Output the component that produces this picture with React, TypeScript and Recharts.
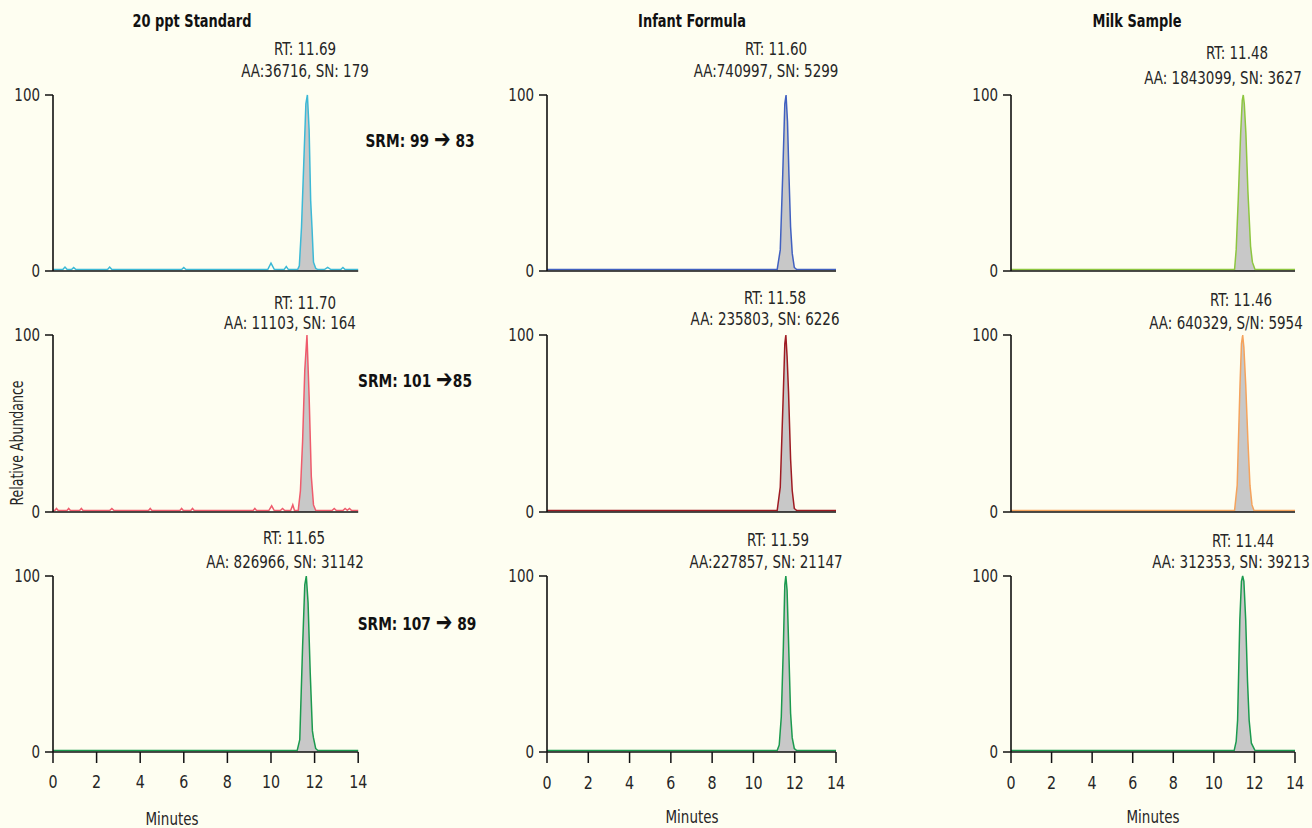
import React from "react";
import { ComposedChart, Line, Area, XAxis, YAxis } from "recharts";

// ---------- text content ----------
const columnTitles = ["20 ppt Standard", "Infant Formula", "Milk Sample"];
const ARROW = "\u2794";
const srmLabels = ["SRM: 99 \u2794 83", "SRM: 101 \u279485", "SRM: 107 \u2794 89"];
const rtLabels = [
  ["RT: 11.69", "RT: 11.70", "RT: 11.65"],
  ["RT: 11.60", "RT: 11.58", "RT: 11.59"],
  ["RT: 11.48", "RT: 11.46", "RT: 11.44"],
];
const aaLabels = [
  ["AA:36716, SN: 179", "AA: 11103, SN: 164", "AA: 826966, SN: 31142"],
  ["AA:740997, SN: 5299", "AA: 235803, SN: 6226", "AA:227857, SN: 21147"],
  ["AA: 1843099, SN: 3627", "AA: 640329, S/N: 5954", "AA: 312353, SN: 39213"],
];
const xTicks = [0, 2, 4, 6, 8, 10, 12, 14];
const yTicks = [0, 100];

// ---------- 20 ppt standard ----------
const std99Time = [0, 0.45, 0.55, 0.65, 0.85, 0.95, 1.05, 2.5, 2.6, 2.7, 5.9, 6.0, 6.1, 9.85, 10.0, 10.15, 10.3, 10.6, 10.7, 10.8, 11.22, 11.3, 11.4, 11.5, 11.6, 11.67, 11.75, 11.82, 11.88, 11.95, 12.05, 12.15, 12.45, 12.6, 12.75, 13.2, 13.3, 13.4, 14];
const std99Abund = [0.8, 0.8, 2.2, 0.8, 0.8, 2, 0.8, 0.8, 2.2, 0.8, 0.8, 2, 0.8, 0.8, 4.5, 1, 0.8, 0.8, 2.5, 0.8, 0.8, 3, 25, 60, 95, 100, 80, 40, 25, 5, 1.5, 0.8, 0.8, 2, 0.8, 0.8, 2, 0.8, 0.8];
const std99Window = [11.22, 12.15];

const std101Time = [0, 0.08, 0.16, 0.24, 0.64, 0.72, 0.8, 1.22, 1.3, 1.38, 2.6, 2.7, 2.8, 4.38, 4.46, 4.54, 5.82, 5.9, 5.98, 6.32, 6.4, 6.48, 9.18, 9.26, 9.34, 9.9, 10.03, 10.15, 10.43, 10.53, 10.63, 10.9, 11.0, 11.08, 11.25, 11.35, 11.45, 11.55, 11.65, 11.75, 11.85, 11.95, 12.05, 12.8, 12.9, 13.0, 13.3, 13.4, 13.5, 13.6, 13.7, 14];
const std101Abund = [0.8, 0.8, 2, 0.8, 0.8, 2, 0.8, 0.8, 2, 0.8, 0.8, 2, 0.8, 0.8, 2, 0.8, 0.8, 2, 0.8, 0.8, 2, 0.8, 0.8, 2, 0.8, 0.8, 3.5, 0.8, 0.8, 2, 0.8, 0.8, 4, 0.8, 1, 12, 40, 80, 100, 65, 20, 4, 1, 0.8, 2, 0.8, 0.8, 2, 1, 2, 0.8, 0.8];
const std101Window = [11.25, 12.05];

const std107Time = [0, 11.2, 11.32, 11.45, 11.55, 11.62, 11.7, 11.8, 11.9, 11.95, 12.05, 12.15, 14];
const std107Abund = [0.8, 0.8, 7, 60, 95, 100, 85, 45, 12, 8, 2, 0.8, 0.8];
const std107Window = [11.2, 12.15];

// ---------- infant formula ----------
const inf99Time = [0, 11.15, 11.3, 11.42, 11.52, 11.58, 11.65, 11.72, 11.8, 11.88, 11.98, 12.1, 14];
const inf99Abund = [0.8, 0.8, 12, 55, 95, 100, 85, 55, 25, 10, 2, 0.8, 0.8];
const inf99Window = [11.15, 12.1];

const inf101Time = [0, 11.15, 11.3, 11.45, 11.52, 11.57, 11.63, 11.7, 11.8, 11.88, 11.98, 12.1, 14];
const inf101Abund = [0.8, 0.8, 14, 68, 95, 100, 88, 68, 30, 12, 2, 0.8, 0.8];
const inf101Window = [11.15, 12.1];

const inf107Time = [0, 11.15, 11.25, 11.35, 11.45, 11.52, 11.57, 11.63, 11.72, 11.8, 11.88, 11.98, 12.1, 14];
const inf107Abund = [0.8, 0.8, 4, 20, 60, 95, 100, 92, 55, 22, 8, 2, 0.8, 0.8];
const inf107Window = [11.15, 12.1];

// ---------- milk sample ----------
const milk99Time = [0, 11.02, 11.1, 11.2, 11.32, 11.4, 11.45, 11.5, 11.58, 11.68, 11.81, 11.9, 12.03, 14];
const milk99Abund = [0.8, 0.8, 12, 40, 78, 97, 100, 95, 78, 45, 14, 5, 0.8, 0.8];
const milk99Window = [11.02, 12.03];

const milk101Time = [0, 11.02, 11.15, 11.29, 11.36, 11.42, 11.48, 11.57, 11.68, 11.78, 11.88, 11.98, 14];
const milk101Abund = [0.8, 0.8, 15, 72, 95, 100, 93, 72, 40, 15, 4, 0.8, 0.8];
const milk101Window = [11.02, 11.98];

const milk107Time = [0, 11.0, 11.1, 11.17, 11.28, 11.36, 11.42, 11.48, 11.57, 11.66, 11.74, 11.85, 12.03, 14];
const milk107Abund = [0.8, 0.8, 6, 18, 75, 97, 100, 97, 75, 40, 18, 5, 0.8, 0.8];
const milk107Window = [11.0, 12.03];

// ---------- layout (pixels) ----------
const colX0 = [52.5, 547, 1011];
const colX1 = [357.7, 836, 1295];
const rowY0 = [95, 335, 576];
const rowY1 = [271, 512, 752];

const rtPos = [
  [[305, 49], [305, 303], [294, 538]],
  [[776, 49], [775, 298], [778, 540]],
  [[1237, 53], [1241, 300], [1243, 541]],
];
const aaPos = [
  [[305, 71], [290, 323], [285, 562]],
  [[766, 71], [765, 319], [766, 562]],
  [[1223, 78], [1226, 323], [1231, 562]],
];
const titlePos = [[192, 21], [692, 21], [1137, 21]];
const srmPos = [[420, 140], [415, 380], [417, 623]];
const minutesPos = [[172, 819], [692, 817], [1153, 817]];

const FONT = '"Liberation Sans Narrow", "DejaVu Sans Condensed", "Liberation Sans", sans-serif';
const TEXT = "#262626";
const BG = "#fefef1";
const FILL = "#c8c8c8";
const SQUEEZE = 0.88;

const panels = [
  { col: 0, row: 0, t: std99Time, v: std99Abund, w: std99Window, color: "#3cb9d6" },
  { col: 0, row: 1, t: std101Time, v: std101Abund, w: std101Window, color: "#ef5b6c" },
  { col: 0, row: 2, t: std107Time, v: std107Abund, w: std107Window, color: "#1b9a4e" },
  { col: 1, row: 0, t: inf99Time, v: inf99Abund, w: inf99Window, color: "#4060c0" },
  { col: 1, row: 1, t: inf101Time, v: inf101Abund, w: inf101Window, color: "#9e1b22" },
  { col: 1, row: 2, t: inf107Time, v: inf107Abund, w: inf107Window, color: "#1b9a4e" },
  { col: 2, row: 0, t: milk99Time, v: milk99Abund, w: milk99Window, color: "#8dc63f" },
  { col: 2, row: 1, t: milk101Time, v: milk101Abund, w: milk101Window, color: "#f5a35c" },
  { col: 2, row: 2, t: milk107Time, v: milk107Abund, w: milk107Window, color: "#1b9a4e" },
];

function Txt(props: { x: number; y: number; size?: number; bold?: boolean; rotate?: number; sx?: number; children: React.ReactNode }) {
  const { x, y, size = 17, bold = false, rotate = 0, sx = SQUEEZE, children } = props;
  return (
    <div
      style={{
        position: "absolute",
        left: x,
        top: y,
        transform: `translate(-50%, -50%) rotate(${rotate}deg) scaleX(${sx})`,
        whiteSpace: "nowrap",
        fontFamily: FONT,
        fontSize: size,
        fontWeight: bold ? 700 : 400,
        color: bold ? "#111" : TEXT,
        lineHeight: 1.1,
      }}
    >
      {children}
    </div>
  );
}

function SrmText({ text }: { text: string }) {
  const i = text.indexOf(ARROW);
  return (
    <>
      {text.slice(0, i)}
      <span style={{ fontSize: "1.45em", lineHeight: 0.7, position: "relative", top: "0.03em" }}>{ARROW}</span>
      {text.slice(i + 1)}
    </>
  );
}

function XTick(props: any) {
  const { x, y, payload } = props;
  return (
    <text
      transform={`translate(${x},${y}) scale(${SQUEEZE},1)`}
      x={0}
      y={0}
      dy="0.75em"
      textAnchor="middle"
      fontSize={18}
      fontFamily={FONT}
      fill={TEXT}
    >
      {payload.value}
    </text>
  );
}

function YTick(props: any) {
  const { x, y, payload } = props;
  return (
    <text
      transform={`translate(${x},${y}) scale(${SQUEEZE},1)`}
      x={0}
      y={0}
      dy="0.36em"
      textAnchor="end"
      fontSize={17}
      fontFamily={FONT}
      fill={TEXT}
    >
      {payload.value}
    </text>
  );
}

const YW = 52;
const MT = 14;
const MR = 16;

function Panel(p: (typeof panels)[number]) {
  const x0 = colX0[p.col];
  const x1 = colX1[p.col];
  const y0 = rowY0[p.row];
  const y1 = rowY1[p.row];
  const bottomRow = p.row === 2;
  const xh = bottomRow ? 50 : 14;
  const width = YW + (x1 - x0) + MR;
  const height = MT + (y1 - y0) + xh;
  const data = p.t.map((t, i) => ({
    t,
    y: p.v[i],
    f: t >= p.w[0] && t <= p.w[1] ? p.v[i] : null,
  }));
  return (
    <div style={{ position: "absolute", left: x0 - YW, top: y0 - MT }}>
      <ComposedChart width={width} height={height} data={data} margin={{ top: MT, right: MR, bottom: 0, left: 0 }}>
        <XAxis
          dataKey="t"
          type="number"
          domain={[0, 14]}
          ticks={xTicks}
          height={xh}
          tick={bottomRow ? <XTick /> : false}
          tickLine={bottomRow ? { stroke: "#111", strokeWidth: 1.5 } : false}
          tickSize={11}
          tickMargin={12}
          axisLine={{ stroke: "#111", strokeWidth: 1.6 }}
          interval={0}
        />
        <YAxis
          type="number"
          domain={[0, 100]}
          ticks={yTicks}
          width={YW}
          tick={<YTick />}
          tickLine={{ stroke: "#111", strokeWidth: 1.5 }}
          tickSize={8}
          tickMargin={5}
          axisLine={{ stroke: "#111", strokeWidth: 1.6 }}
          interval={0}
        />
        <Area
          dataKey="f"
          type="linear"
          stroke="none"
          fill={FILL}
          fillOpacity={1}
          isAnimationActive={false}
          connectNulls={false}
          dot={false}
          activeDot={false}
        />
        <Line
          dataKey="y"
          type="linear"
          stroke={p.color}
          strokeWidth={1.5}
          dot={false}
          activeDot={false}
          isAnimationActive={false}
        />
      </ComposedChart>
    </div>
  );
}

export default function App() {
  return (
    <div
      style={{
        position: "absolute",
        left: 0,
        top: 0,
        width: 1312,
        height: 828,
        background: BG,
        overflow: "hidden",
        fontFamily: FONT,
      }}
    >
      {panels.map((p, i) => (
        <Panel key={i} {...p} />
      ))}
      {columnTitles.map((s, i) => (
        <Txt key={"t" + i} x={titlePos[i][0]} y={titlePos[i][1]} size={18} bold sx={0.8}>
          {s}
        </Txt>
      ))}
      {srmLabels.map((s, i) => (
        <Txt key={"s" + i} x={srmPos[i][0]} y={srmPos[i][1]} size={18} bold sx={0.85}>
          <SrmText text={s} />
        </Txt>
      ))}
      {rtLabels.map((col, c) =>
        col.map((s, r) => (
          <Txt key={"rt" + c + r} x={rtPos[c][r][0]} y={rtPos[c][r][1]}>
            {s}
          </Txt>
        ))
      )}
      {aaLabels.map((col, c) =>
        col.map((s, r) => (
          <Txt key={"aa" + c + r} x={aaPos[c][r][0]} y={aaPos[c][r][1]}>
            {s}
          </Txt>
        ))
      )}
      {minutesPos.map((pos, i) => (
        <Txt key={"m" + i} x={pos[0]} y={pos[1]}>
          Minutes
        </Txt>
      ))}
      <Txt x={17} y={443} rotate={-90} sx={0.82}>
        Relative Abundance
      </Txt>
    </div>
  );
}
